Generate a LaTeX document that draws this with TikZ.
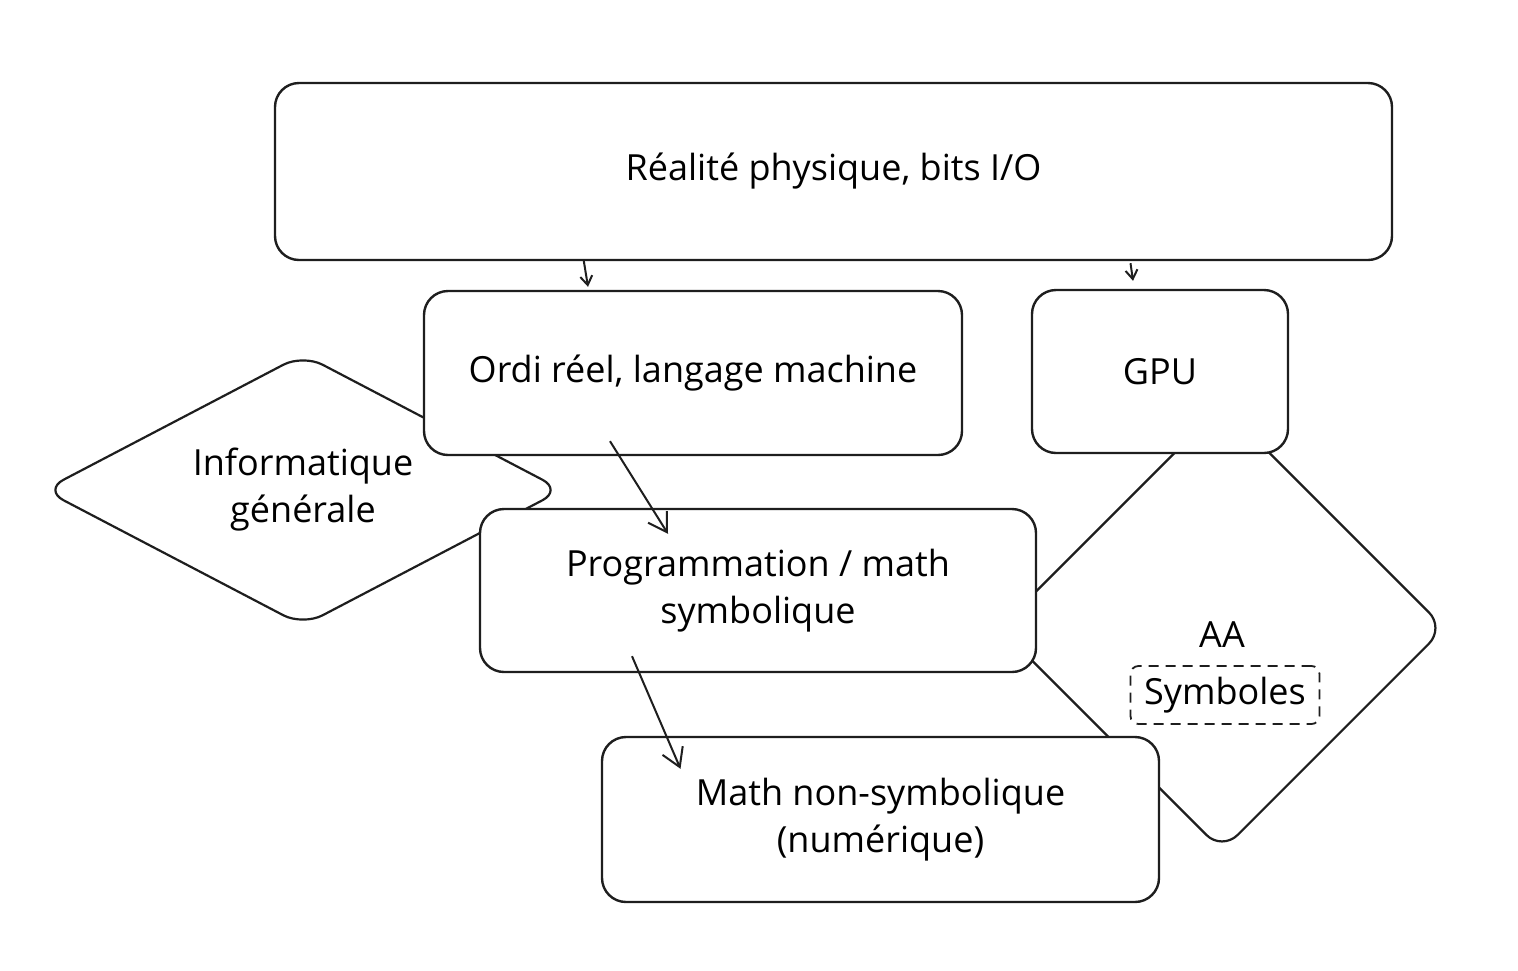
\documentclass[tikz,border=0pt]{standalone}
\usepackage{fontspec}
\setmainfont{Open Sans}
\usetikzlibrary{arrows.meta,positioning,shapes.geometric}
\definecolor{SketchInk}{HTML}{1E1E1E}

\begin{document}
\begin{tikzpicture}[
    x=1pt, y=-1pt,
    font=\fontsize{36}{47}\selectfont,
    block/.style={
        rectangle,
        rounded corners=24pt,
        draw=SketchInk,
        fill=white,
        line width=2.4pt,
        align=center,
        inner sep=0pt
    },
    rhombus/.style={
        diamond,
        draw=SketchInk,
        fill=white,
        line width=2.2pt,
        rounded corners=22pt,
        align=center,
        inner sep=0pt
    },
    tag/.style={
        rectangle,
        rounded corners=8pt,
        draw=SketchInk,
        dash pattern=on 10pt off 7pt,
        line width=1.8pt,
        minimum width=189pt,
        minimum height=58pt,
        inner sep=0pt
    },
    link/.style={
        -{Straight Barb[length=9pt,width=12pt]},
        line width=2pt,
        draw=SketchInk
    },
    long link/.style={
        link,
        -{Straight Barb[length=18pt,width=22pt]}
    }
]
    \useasboundingbox (0,0) rectangle (1518,970);

    % diamonds sit behind the boxes
    \node[rhombus, minimum width=519pt, minimum height=272pt, aspect=1.9]
        (infog) at (303,490) {Informatique\\générale};
    \node[rhombus, minimum width=446pt, minimum height=446pt, aspect=1]
        (aa) at (1222,628) {};
    \node (aalabel) at (1222,635) {AA};
    \node[tag] (symb) at (1225,695) {Symboles};

    % boxes
    \node[block, minimum width=1117pt, minimum height=177pt]
        (real) at (833.5,171.5) {Réalité physique, bits I/O};
    \node[block, minimum width=538pt, minimum height=164pt]
        (ordi) at (693,373) {Ordi réel, langage machine};
    \node[block, minimum width=256pt, minimum height=163pt]
        (gpu) at (1160,371.5) {GPU};
    \node[block, minimum width=556pt, minimum height=163pt]
        (prog) at (758,590.5) {Programmation / math\\symbolique};
    \node[block, minimum width=557pt, minimum height=165pt]
        (num) at (880.5,819.5) {Math non-symbolique\\(numérique)};

    % arrows
    \draw[link] ([xshift=-250pt, yshift=2pt]real.south)
        -- ([xshift=-105pt, yshift=3pt]ordi.north);
    \draw[link] ([xshift=297pt, yshift=-2pt]real.south)
        -- ([xshift=-27pt, yshift=8pt]gpu.north);
    \draw[long link] ([xshift=-83pt, yshift=15pt]ordi.south)
        -- ([xshift=-90pt, yshift=-26pt]prog.north);
    \draw[long link] ([xshift=-126pt, yshift=17pt]prog.south)
        -- ([xshift=-200pt, yshift=-33pt]num.north);
\end{tikzpicture}
\end{document}
